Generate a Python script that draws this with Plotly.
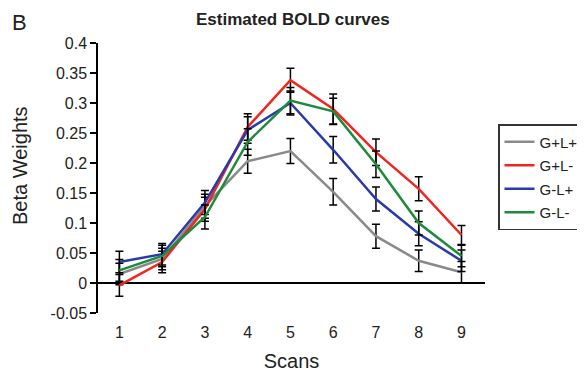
import plotly.graph_objects as go

scans = [1, 2, 3, 4, 5, 6, 7, 8, 9]
series_names = ["G+L+", "G+L-", "G-L+", "G-L-"]
colors = ["#8a8a8a", "#f0261e", "#2b3aa8", "#1e8a3c"]

gpl_p = [0.015, 0.040, 0.128, 0.203, 0.220, 0.152, 0.078, 0.037, 0.018]
gpl_m = [-0.004, 0.035, 0.123, 0.260, 0.338, 0.290, 0.218, 0.157, 0.080]
gml_p = [0.035, 0.048, 0.134, 0.255, 0.300, 0.222, 0.140, 0.082, 0.037]
gml_m = [0.021, 0.045, 0.110, 0.235, 0.304, 0.286, 0.198, 0.100, 0.045]

err_gpl_p = [0.018, 0.018, 0.020, 0.020, 0.021, 0.022, 0.020, 0.018, 0.018]
err_gpl_m = [0.018, 0.018, 0.020, 0.022, 0.020, 0.025, 0.022, 0.020, 0.016]
err_gml_p = [0.018, 0.018, 0.020, 0.022, 0.020, 0.022, 0.020, 0.020, 0.018]
err_gml_m = [0.018, 0.018, 0.020, 0.022, 0.022, 0.022, 0.022, 0.020, 0.018]

values = [gpl_p, gpl_m, gml_p, gml_m]
errors = [err_gpl_p, err_gpl_m, err_gml_p, err_gml_m]

y_ticks = [-0.05, 0, 0.05, 0.1, 0.15, 0.2, 0.25, 0.3, 0.35, 0.4]
y_tick_text = ["-0.05", "0", "0.05", "0.1", "0.15", "0.2", "0.25", "0.3", "0.35", "0.4"]

fig = go.Figure()
for name, col, v, e in zip(series_names, colors, values, errors):
    fig.add_trace(go.Scatter(
        x=scans, y=v, name=name, mode="lines", legendgroup=name,
        line=dict(color=col, width=2.5),
        error_y=dict(type="data", array=e, visible=True, color="black",
                     thickness=1.5, width=4),
    ))

# the page body has an 8px margin, so figure coords = window coords - 8
OFF = 8
W, H = 585 - OFF, 372 - OFF
L, R, T, B = 98 - OFF, 585 - 485, 43 - OFF, 372 - 313
pw, ph = W - L - R, H - T - B


def px(x):
    return (x - OFF - L) / pw


def py(y):
    return (H - B - (y - OFF)) / ph


font = "Liberation Sans, Arial, sans-serif"
fig.update_layout(
    width=W, height=H,
    margin=dict(l=L, r=R, t=T, b=B, autoexpand=False),
    paper_bgcolor="white", plot_bgcolor="white",
    font=dict(family=font, color="#222222"),
    showlegend=True,
    legend=dict(x=px(498), y=py(124), xanchor="left", yanchor="top",
                bordercolor="#333333", borderwidth=1.5,
                font=dict(size=15, family=font, color="#222222"),
                tracegroupgap=1),
    annotations=[
        dict(text="<b>Estimated BOLD curves</b>", x=px(293), y=py(19.5),
             xref="paper", yref="paper", showarrow=False, font=dict(size=17),
             xanchor="center", yanchor="middle"),
        dict(text="B", x=px(19), y=py(22), xref="paper", yref="paper",
             showarrow=False, font=dict(size=22), xanchor="center", yanchor="middle"),
        dict(text="Beta Weights", x=px(20), y=py(166), xref="paper", yref="paper",
             showarrow=False, font=dict(size=20), textangle=-90,
             xanchor="center", yanchor="middle"),
    ],
)

fig.update_xaxes(
    range=[0.5, 9.55], tickmode="array", tickvals=scans,
    ticktext=[str(s) for s in scans], automargin=False,
    showline=False, showgrid=False, zeroline=False,
    ticks="outside", ticklen=5, tickcolor="rgba(0,0,0,0)",
    tickfont=dict(size=16),
    title=dict(text="Scans", font=dict(size=20), standoff=14),
)
fig.update_yaxes(
    range=[-0.05, 0.4], tickmode="array", tickvals=y_ticks, ticktext=y_tick_text,
    showline=True, linecolor="black", linewidth=1.5, automargin=False,
    ticks="outside", ticklen=6, tickcolor="black", tickwidth=1.5,
    showgrid=False, zeroline=True, zerolinecolor="black", zerolinewidth=1.5,
    tickfont=dict(size=16),
)

fig.write_html("out.html")
